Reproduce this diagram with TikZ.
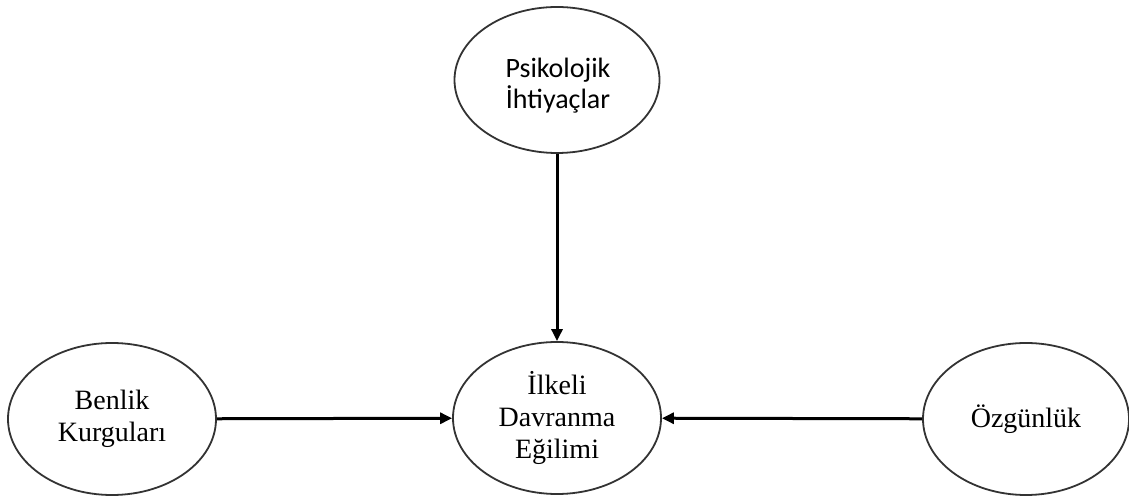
\documentclass[tikz,border=0pt]{standalone}
\usepackage{fontspec}
\setmainfont{Liberation Serif}
\newfontfamily\calfont{Carlito}
\usetikzlibrary{shapes.geometric,arrows.meta}
\begin{document}
\begin{tikzpicture}[x=1pt,y=1pt,
  oval/.style={ellipse,draw=black!80,line width=1.8pt,inner sep=0pt,align=center,
    font=\fontsize{28}{32}\selectfont},
  link/.style={line width=3pt,-{Triangle[length=12pt,width=11pt]}}]
\useasboundingbox (0,0) rectangle (1129,500);
\node[oval,minimum width=205,minimum height=146] (psi) at (557,420) {};
\node[font=\calfont\fontsize{28}{31}\selectfont,align=center,inner sep=0pt] (psit) at (558,414) {Psikolojik\\İhtiyaçlar};
\node[oval,minimum width=208,minimum height=152] (ilk) at (557,82) {İlkeli\\Davranma\\Eğilimi};
\node[oval,minimum width=208,minimum height=152] (ben) at (112,81) {Benlik\\Kurguları};
\node[oval,minimum width=206,minimum height=152] (ozg) at (1026,81) {Özgünlük};
\draw[link] (psi) -- (ilk);
\draw[link] (ben) -- (ilk);
\draw[link] (ozg) -- (ilk);
\end{tikzpicture}
\end{document}
